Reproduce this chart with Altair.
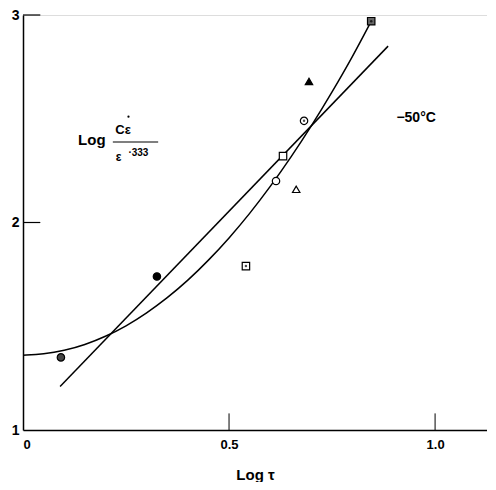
import altair as alt
import pandas as pd

# data points
pt_x = [0.092, 0.325, 0.541, 0.614, 0.631, 0.663, 0.682, 0.694, 0.845]
pt_y = [1.35, 1.74, 1.79, 2.20, 2.32, 2.16, 2.49, 2.68, 2.97]
pt_shape = ["circle", "circle", "square", "circle", "square",
            "triangle-up", "circle", "triangle-up", "square"]
pt_fill = ["#444444", "black", "white", "white", "white",
           "white", "white", "black", "#666666"]
pt_dot = [False, False, True, False, False, False, True, False, True]

# curve
curve_x = [0.0, 0.05, 0.1, 0.15, 0.2, 0.25, 0.3, 0.35, 0.4, 0.45, 0.5,
           0.55, 0.6, 0.65, 0.7, 0.75, 0.8, 0.845]
curve_y = [1.36, 1.366, 1.382, 1.41, 1.45, 1.50, 1.563, 1.636, 1.72, 1.817, 1.924,
           2.042, 2.172, 2.313, 2.465, 2.628, 2.80, 2.97]

# straight line
line_x = [0.09, 0.886]
line_y = [1.21, 2.85]

x_ticks = [0.5, 1.0]
y_ticks = [2, 3]
y_labels = [1, 2, 3]

FONT = "Liberation Sans"

xs = alt.Scale(domain=[0, 1.126], nice=False, zero=False)
ys = alt.Scale(domain=[1, 3], nice=False, zero=False)

X = alt.X("x:Q", scale=xs,
          axis=alt.Axis(values=[0, 0.5, 1.0], title="Log τ", grid=False,
                        ticks=False, domainColor="black", domainWidth=1.5,
                        labelExpr="datum.value == 0 ? '0' : format(datum.value, '.1f')",
                        labelFont=FONT, labelFontWeight="bold", labelFontSize=13,
                        labelColor="black", labelPadding=8, labelOverlap=False,
                        titleFont=FONT, titleFontWeight="bold", titleFontSize=15,
                        titleColor="black", titlePadding=16))
Y = alt.Y("y:Q", scale=ys,
          axis=alt.Axis(values=y_labels, title=None, grid=False, ticks=False,
                        labelExpr="format(datum.value, 'd')",
                        domainColor="black", domainWidth=1.5,
                        labelFont=FONT, labelFontWeight="bold", labelFontSize=14,
                        labelColor="black", labelPadding=4, labelOverlap=False,
                        labelBound=False, labelFlush=False))

pts = pd.DataFrame({"x": pt_x, "y": pt_y, "shape": pt_shape,
                    "fill": pt_fill, "dot": pt_dot})
curve = pd.DataFrame({"x": curve_x, "y": curve_y})
line = pd.DataFrame({"x": line_x, "y": line_y})

curve_layer = alt.Chart(curve).mark_line(color="black", strokeWidth=1.5,
                                          interpolate="basis").encode(x=X, y=Y)
line_layer = alt.Chart(line).mark_line(color="black", strokeWidth=1.5).encode(x=X, y=Y)

point_layer = alt.Chart(pts).mark_point(filled=True, stroke="black", strokeWidth=1.2,
                                        size=55, opacity=1).encode(
    x=X, y=Y,
    shape=alt.Shape("shape:N", scale=None),
    fill=alt.Fill("fill:N", scale=None))
dot_layer = alt.Chart(pts).transform_filter("datum.dot").mark_point(
    filled=True, color="black", size=6, shape="circle").encode(x=X, y=Y)

# inward tick marks
xt = pd.DataFrame({"x": x_ticks, "y": [1] * len(x_ticks), "y2": [1.08] * len(x_ticks)})
yt = pd.DataFrame({"y": y_ticks, "x": [0] * len(y_ticks), "x2": [0.042] * len(y_ticks)})
xtick_layer = alt.Chart(xt).mark_rule(color="black", strokeWidth=1).encode(
    x=X, y=Y, y2="y2:Q")
ytick_layer = alt.Chart(yt).mark_rule(color="black", strokeWidth=1.2).encode(
    x=X, x2="x2:Q", y=Y)

# annotations
ann = pd.DataFrame({
    "x": [0.167, 0.243, 0.232, 0.280, 0.954],
    "y": [2.398, 2.445, 2.316, 2.336, 2.504],
    "t": ["Log", "Cε", "ε", "·333", "−50°C"],
    "s": [15, 13, 12, 10, 14],
})
ann_layer = alt.Chart(ann).mark_text(font=FONT, fontWeight="bold", color="black",
                                     baseline="middle", align="center").encode(
    x=X, y=Y, text="t:N",
    size=alt.Size("s:Q", scale=None))
# small dot over the numerator epsilon
dotann = pd.DataFrame({"x": [0.256], "y": [2.51]})
dotann_layer = alt.Chart(dotann).mark_point(filled=True, color="black", size=5,
                                            shape="circle", opacity=1).encode(x=X, y=Y)
frac = pd.DataFrame({"x": [0.218], "x2": [0.328], "y": [2.388]})
frac_layer = alt.Chart(frac).mark_rule(color="black", strokeWidth=1.2).encode(
    x=X, x2="x2:Q", y=Y)

chart = alt.layer(curve_layer, line_layer, point_layer, dot_layer, xtick_layer,
                  ytick_layer, ann_layer, dotann_layer, frac_layer).properties(
    width=464, height=415,
    padding={"left": 15, "top": 7, "right": 0, "bottom": 52},
    autosize=alt.AutoSizeParams(type="none"),
).configure_view(stroke=None).configure(background="white")

chart.save("out.html", embed_options={"renderer": "svg", "actions": False})
